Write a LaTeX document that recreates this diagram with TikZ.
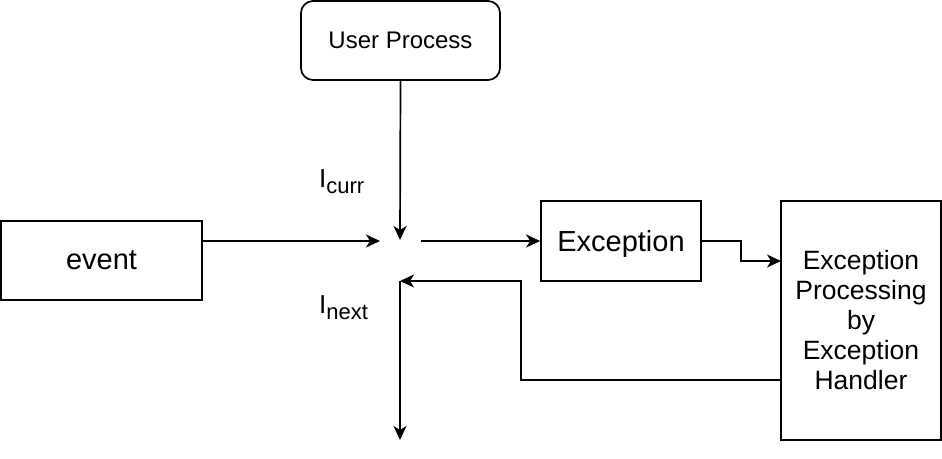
\documentclass[tikz,border=0pt]{standalone}
\usepackage{fontspec}
\setmainfont{Liberation Sans}
\usetikzlibrary{arrows.meta}

\begin{document}
\begin{tikzpicture}[x=1pt,y=-1pt,>={Stealth[length=14pt,width=13pt,inset=4pt]},
  box/.style={draw,line width=1.7pt,inner sep=0pt,align=center},
  wire/.style={line width=1.7pt}]
  \useasboundingbox (0,0) rectangle (942,458);
  \node[box,rounded corners=12pt,minimum width=199pt,minimum height=79pt,text depth=0pt,font=\fontsize{24}{28}\selectfont] (user) at (400.5,40.5) {User Process};
  \node[box,minimum width=201pt,minimum height=79pt,text height=18pt,text depth=0pt,font=\fontsize{29}{33}\selectfont] (event) at (101.5,260.5) {event};
  \node[box,minimum width=160pt,minimum height=80pt,text depth=0pt,font=\fontsize{29}{33}\selectfont] (exc) at (621,241) {Exception};
  \node[box,minimum width=160pt,minimum height=239pt,font=\fontsize{26.5}{30}\selectfont] (handler) at (861,320.5)
    {Exception\\Processing\\by\\Exception\\Handler};
  \coordinate (cin) at (400,240);
  \coordinate (ein) at (380,241);
  \coordinate (eout) at (421,241);
  \coordinate (nxt) at (400,281);
  \coordinate (down) at (400,440);
  \coordinate (hin) at (781,261);
  \coordinate (hout) at (781,380);
  \draw[wire,->] (user.south) -- (cin);
  \draw[wire,->] (event.east |- ein) -- (ein);
  \draw[wire,->] (eout) -- (exc.west);
  \draw[wire,->] (exc.east) -- (741,241) |- (hin);
  \draw[wire,->] (hout) -| (521,281) -- (nxt);
  \draw[wire,->] (nxt) -- (down);
  \node[anchor=base west,inner sep=0pt,font=\fontsize{26}{30}\selectfont] (curr) at (319,187)
    {I\raisebox{-6pt}{\fontsize{22}{26}\selectfont curr}};
  \node[anchor=base west,inner sep=0pt,font=\fontsize{26}{30}\selectfont] (next) at (319,313)
    {I\raisebox{-6pt}{\fontsize{22}{26}\selectfont next}};
\end{tikzpicture}
\end{document}
